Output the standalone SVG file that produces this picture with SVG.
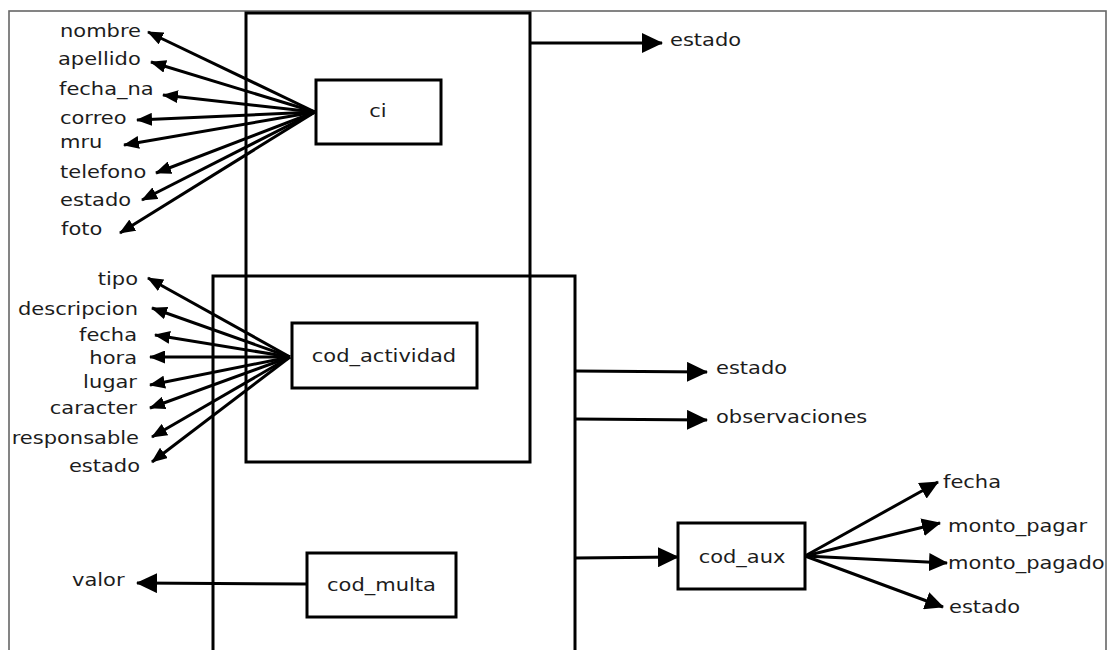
<svg xmlns="http://www.w3.org/2000/svg" width="1112" height="650" viewBox="0 0 1112 650">
  <defs>
    <style>
      .frame { fill: none; stroke: #666; stroke-width: 1.6; }
      .box { fill: none; stroke: #000; stroke-width: 3; }
      .node { fill: #fff; stroke: #000; stroke-width: 3; }
      .edge { fill: none; stroke: #000; stroke-width: 3; }
      .sm { marker-end: url(#headSmall); }
      .lg { marker-end: url(#headLarge); }
      .md { marker-end: url(#headMid); }
      text { font-family: "DejaVu Sans", "Liberation Sans", sans-serif; font-size: 17.5px; fill: #1c1c1c; }
      .end { text-anchor: end; }
      .mid { text-anchor: middle; }
    </style>
    <marker id="headSmall" markerUnits="userSpaceOnUse" markerWidth="16" markerHeight="13" refX="15" refY="6.5" orient="auto">
      <path d="M0,0 L16,6.5 L0,13 z" fill="#000"/>
    </marker>
    <marker id="headMid" markerUnits="userSpaceOnUse" markerWidth="19" markerHeight="18" refX="18" refY="9" orient="auto">
      <path d="M0,0 L19,9 L0,18 z" fill="#000"/>
    </marker>
    <marker id="headLarge" markerUnits="userSpaceOnUse" markerWidth="21" markerHeight="20" refX="20" refY="10" orient="auto">
      <path d="M0,0 L21,10 L0,20 z" fill="#000"/>
    </marker>
  </defs>

  <rect width="1112" height="650" fill="#fff"/>
  <rect class="frame" x="9" y="11" width="1097" height="700"/>

  <!-- entity groupings -->
  <g id="group-persona">
    <rect class="box" x="246" y="13" width="284" height="449"/>
  </g>
  <g id="group-actividad">
    <rect class="box" x="213" y="276" width="362" height="420"/>
  </g>

  <!-- connectors -->
  <g id="connectors">
    <!-- ci attributes -->
    <line class="edge sm" x1="315" y1="112" x2="148" y2="32"/>
    <line class="edge sm" x1="315" y1="112" x2="151" y2="62"/>
    <line class="edge sm" x1="315" y1="112" x2="163" y2="95"/>
    <line class="edge sm" x1="315" y1="112" x2="137" y2="120"/>
    <line class="edge sm" x1="315" y1="112" x2="124" y2="145"/>
    <line class="edge sm" x1="315" y1="112" x2="156" y2="173"/>
    <line class="edge sm" x1="315" y1="112" x2="142" y2="200"/>
    <line class="edge sm" x1="315" y1="112" x2="120" y2="233"/>
    <!-- cod_actividad attributes -->
    <line class="edge sm" x1="290" y1="357" x2="148" y2="278"/>
    <line class="edge sm" x1="290" y1="357" x2="152" y2="308"/>
    <line class="edge sm" x1="290" y1="357" x2="155" y2="335"/>
    <line class="edge sm" x1="290" y1="357" x2="150" y2="357"/>
    <line class="edge sm" x1="290" y1="357" x2="150" y2="385"/>
    <line class="edge sm" x1="290" y1="357" x2="150" y2="408"/>
    <line class="edge sm" x1="290" y1="357" x2="152" y2="437"/>
    <line class="edge sm" x1="290" y1="357" x2="152" y2="462"/>
    <!-- group attributes -->
    <line class="edge lg" x1="530" y1="43" x2="662" y2="43"/>
    <line class="edge lg" x1="575" y1="371" x2="707" y2="372"/>
    <line class="edge lg" x1="575" y1="419" x2="707" y2="420"/>
    <line class="edge lg" x1="575" y1="558" x2="678" y2="557"/>
    <!-- cod_multa -->
    <line class="edge lg" x1="307" y1="584" x2="137" y2="583"/>
    <!-- cod_aux attributes -->
    <line class="edge md" x1="805" y1="556" x2="938" y2="482"/>
    <line class="edge md" x1="805" y1="556" x2="940" y2="523"/>
    <line class="edge md" x1="805" y1="556" x2="947" y2="563"/>
    <line class="edge md" x1="805" y1="556" x2="943" y2="607"/>
  </g>

  <!-- key nodes -->
  <g id="node-ci">
    <rect class="node" x="316" y="80" width="125" height="64"/>
    <text class="mid" transform="translate(378 117) scale(1.2 1)">ci</text>
  </g>
  <g id="node-cod-actividad">
    <rect class="node" x="292" y="323" width="185" height="65"/>
    <text class="mid" transform="translate(384 362) scale(1.2 1)">cod_actividad</text>
  </g>
  <g id="node-cod-multa">
    <rect class="node" x="307" y="553" width="149" height="64"/>
    <text class="mid" transform="translate(381.5 591) scale(1.2 1)">cod_multa</text>
  </g>
  <g id="node-cod-aux">
    <rect class="node" x="678" y="523" width="127" height="66"/>
    <text class="mid" transform="translate(742 563) scale(1.2 1)">cod_aux</text>
  </g>

  <!-- ci attribute labels -->
  <g id="attrs-ci">
    <text transform="translate(60 37) scale(1.2 1)">nombre</text>
    <text transform="translate(58 65) scale(1.2 1)">apellido</text>
    <text transform="translate(59 95) scale(1.2 1)">fecha_na</text>
    <text transform="translate(60 124) scale(1.2 1)">correo</text>
    <text transform="translate(60 148) scale(1.2 1)">mru</text>
    <text transform="translate(60 178) scale(1.2 1)">telefono</text>
    <text transform="translate(60 206) scale(1.2 1)">estado</text>
    <text transform="translate(61 235) scale(1.2 1)">foto</text>
  </g>

  <!-- cod_actividad attribute labels -->
  <g id="attrs-actividad">
    <text class="end" transform="translate(138 285) scale(1.2 1)">tipo</text>
    <text class="end" transform="translate(138 315) scale(1.2 1)">descripcion</text>
    <text class="end" transform="translate(137 341) scale(1.2 1)">fecha</text>
    <text class="end" transform="translate(137 364) scale(1.2 1)">hora</text>
    <text class="end" transform="translate(137 388) scale(1.2 1)">lugar</text>
    <text class="end" transform="translate(137 414) scale(1.2 1)">caracter</text>
    <text class="end" transform="translate(139 444) scale(1.2 1)">responsable</text>
    <text class="end" transform="translate(140 472) scale(1.2 1)">estado</text>
  </g>

  <!-- remaining labels -->
  <g id="attrs-other">
    <text transform="translate(670 46) scale(1.2 1)">estado</text>
    <text transform="translate(716 374) scale(1.2 1)">estado</text>
    <text transform="translate(716 423) scale(1.2 1)">observaciones</text>
    <text transform="translate(72 586) scale(1.2 1)">valor</text>
    <text transform="translate(943 488) scale(1.2 1)">fecha</text>
    <text transform="translate(948 532) scale(1.2 1)">monto_pagar</text>
    <text transform="translate(948 569) scale(1.2 1)">monto_pagado</text>
    <text transform="translate(949 613) scale(1.2 1)">estado</text>
  </g>
</svg>
